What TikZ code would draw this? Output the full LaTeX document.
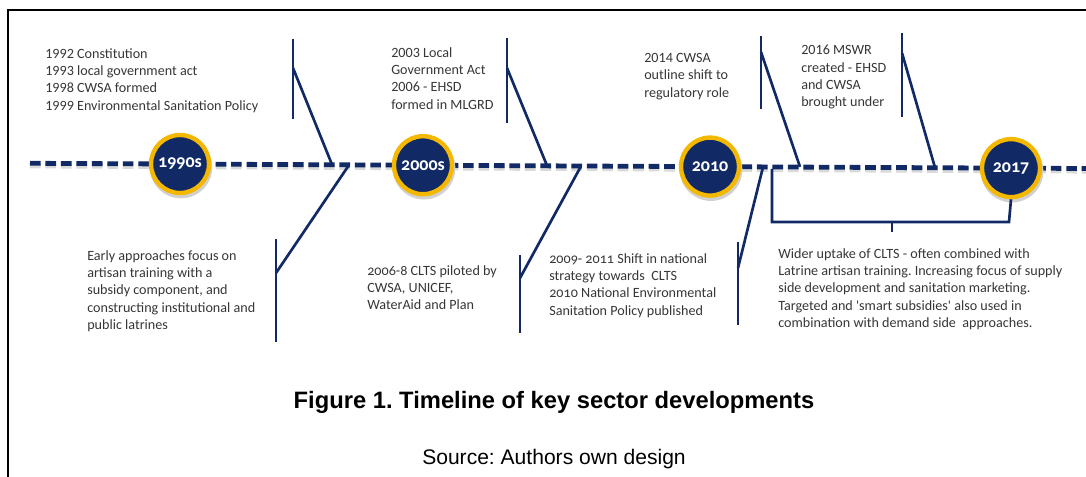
\documentclass[tikz,border=0pt]{standalone}
\usepackage{fontspec}
\setmainfont{Carlito}
\newfontfamily\osffont[Numbers=OldStyle]{Carlito}
\newfontfamily\capfont{Liberation Sans}
\definecolor{navy}{HTML}{112A66}
\definecolor{gold}{HTML}{F4B800}
\definecolor{txtgray}{HTML}{363636}
\frenchspacing
\begin{document}
\begin{tikzpicture}[x=0.75pt,y=-0.75pt,
  conn/.style={draw=navy, line width=2pt},
  txt/.style={anchor=north west, align=left, inner sep=0pt, text=txtgray,
    font=\frenchspacing\fontsize{10.6}{13}\selectfont},
  osftxt/.style={txt, font=\frenchspacing\osffont\fontsize{10.6}{13}\selectfont},
  yearnode/.style={circle, fill=navy, draw=gold, line width=3.3pt,
    minimum size=43.5pt, inner sep=0pt, text=white,
    font=\osffont\bfseries\fontsize{13.5}{15}\selectfont},
  shadowcirc/.style={circle, fill=black!18, minimum size=47pt, inner sep=0pt},
  frameline/.style={draw=black, line width=1.6pt}]
\useasboundingbox (0,0) rectangle (1086,477);
% frame
\coordinate (fTL) at (8,10);
\coordinate (fTR) at (1086,10);
\coordinate (fBL) at (8,477);
\draw[frameline] (fBL) -- (fTL) -- (fTR);
% timeline
\coordinate (tlL) at (30,163.3);
\coordinate (tlR) at (1086,168.5);
\draw[black!15, line width=3.6pt, dash pattern=on 8pt off 3.6pt, transform canvas={yshift=-2pt}] (tlL) -- (tlR);
\draw[navy, line width=3.6pt, dash pattern=on 8pt off 3.6pt] (tlL) -- (tlR);
% upper flags
\foreach \n/\x/\ya/\yb/\yj/\tx/\ty in {u1/293/39/119/68/332/164.6, u2/507/38/123/68/547/165.6, u3/761/36/109/52/800/166.9, u4/902/33/117/53/935/167.6}{
  \coordinate (\n top) at (\x,\ya);
  \coordinate (\n bot) at (\x,\yb);
  \coordinate (\n j) at (\x,\yj);
  \coordinate (\n t) at (\tx,\ty);
  \draw[conn] (\n top) -- (\n bot);
  \draw[conn] (\n j) -- (\n t);
}
% lower flags
\foreach \n/\x/\ya/\yb/\yj/\tx/\ty in {l1/276/239/342/273/349/165.0, l2/520/255/333/278/581/166.2, l3/738/242/325/268/763/167.0}{
  \coordinate (\n top) at (\x,\ya);
  \coordinate (\n bot) at (\x,\yb);
  \coordinate (\n j) at (\x,\yj);
  \coordinate (\n t) at (\tx,\ty);
  \draw[conn] (\n top) -- (\n bot);
  \draw[conn] (\n j) -- (\n t);
}
% year circles
\foreach \n/\x/\y in {c1/180/164.0, c2/423/165.2, c3/710/166.6, c4/1011/168.1}{
  \node[shadowcirc] at (\x+1,\y+3) {};
}
\node[yearnode] (c1) at (180,164.0) {1990s};
\node[yearnode] (c2) at (423,165.2) {2000s};
\node[yearnode] (c3) at (710,166.6) {2010};
\node[yearnode] (c4) at (1011,168.1) {2017};
% bracket
\coordinate (bA) at (772,169);
\coordinate (bB) at (772,222);
\coordinate (bC) at (1009,222);
\coordinate (bM) at (892,222);
\coordinate (bT) at (892,232);
\draw[conn] (bA) -- (bB) -- (bC) -- (c4.south);
\draw[conn] (bM) -- (bT);
% texts
\node[txt] (tA) at (45,48) {1992 Constitution\\1993 local government act\\1998 CWSA formed\\1999 Environmental Sanitation Policy};
\node[txt] (tB) at (391,47) {2003 Local\\Government Act\\2006 - EHSD\\formed in MLGRD};
\node[txt] (tC) at (644,53) {2014 CWSA\\outline shift to\\regulatory role};
\node[txt] (tD) at (801,45) {2016 MSWR\\created - EHSD\\and CWSA\\brought under};
\node[osftxt] (tE) at (87,250) {Early approaches focus on\\artisan training with a\\subsidy component, and\\constructing institutional and\\public latrines};
\node[osftxt] (tF) at (367,265) {2006-8 CLTS piloted by\\CWSA, UNICEF,\\WaterAid and Plan};
\node[osftxt] (tG) at (549,253) {2009- 2011 Shift in national\\strategy towards~~CLTS\\2010 National Environmental\\Sanitation Policy published};
\node[txt] (tH) at (778,248) {Wider uptake of CLTS - often combined with\\Latrine artisan training. Increasing focus of supply\\side development and sanitation marketing.\\Targeted and \textquotesingle smart subsidies\textquotesingle{} also used in\\combination with demand side~~approaches.};
% caption
\node[font=\capfont\bfseries\fontsize{17.8}{20}\selectfont] (cap) at (554,402) {Figure 1. Timeline of key sector developments};
\node[font=\capfont\fontsize{15.8}{18}\selectfont] (src) at (554,459) {Source: Authors own design};
\end{tikzpicture}
\end{document}
